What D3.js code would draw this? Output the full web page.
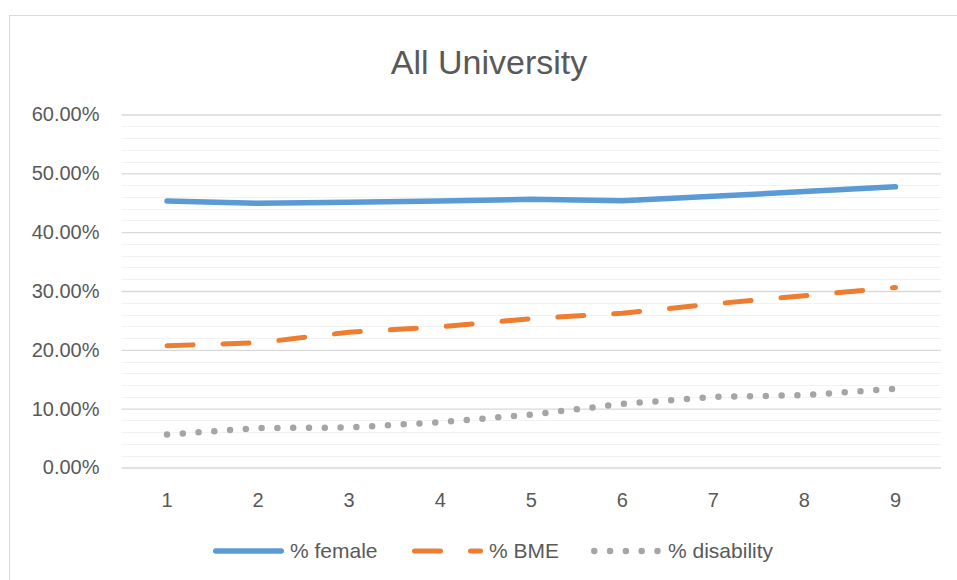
<!DOCTYPE html>
<html>
<head>
<meta charset="utf-8">
<script src="https://cdn.jsdelivr.net/npm/d3@7"></script>
<style>
  html, body { margin: 0; padding: 0; background: #fff; }
  svg { display: block; font-family: "Liberation Sans", Arial, sans-serif; }
</style>
</head>
<body>
<svg id="chart" width="957" height="580"></svg>
<script>
// Staff composition across nine periods
const categories = [1, 2, 3, 4, 5, 6, 7, 8, 9];
const female     = [45.3, 44.9, 45.1, 45.3, 45.6, 45.35, 46.1, 46.9, 47.7];
const bme        = [20.7, 21.2, 23.0, 23.9, 25.3, 26.2, 27.8, 29.2, 30.6];
const disability = [5.6, 6.7, 6.8, 7.7, 9.0, 10.8, 12.0, 12.3, 13.4];
const yTicks     = [0, 10, 20, 30, 40, 50, 60];
const yMinor     = d3.range(0, 61, 2);

const series = [
  { name: "% female",     values: female,     color: "#5B9BD5", width: 5.5, dash: null,      cap: "round" },
  { name: "% BME",        values: bme,        color: "#ED7D31", width: 5,   dash: "26,30",   cap: "round" },
  { name: "% disability", values: disability, color: "#A5A5A5", width: 6.5, dash: "0,15.8",  cap: "round" }
];

const svg = d3.select("#chart");
const textColor = "#595959";
const fontFamily = "'Liberation Sans', Arial, sans-serif";

// chart frame
svg.append("rect")
  .attr("x", 9.5).attr("y", 15.5)
  .attr("width", 960).attr("height", 580)
  .attr("fill", "#fff").attr("stroke", "#D9D9D9").attr("stroke-width", 1);

const plot = { left: 121.5, right: 941, top: 114.5, bottom: 467.5 };

const x = d3.scaleBand().domain(categories).range([plot.left, plot.right]);
const y = d3.scaleLinear().domain([0, 60]).range([plot.bottom, plot.top]);
const cx = d => x(d) + x.bandwidth() / 2;

// minor gridlines
svg.append("g").selectAll("line").data(yMinor.filter(v => v % 10 !== 0)).join("line")
  .attr("x1", plot.left).attr("x2", plot.right)
  .attr("y1", d => Math.round(y(d)) + 0.5).attr("y2", d => Math.round(y(d)) + 0.5)
  .attr("stroke", "#F2F2F2").attr("stroke-width", 1);

// major gridlines and y labels via axis
const yAxis = svg.append("g")
  .attr("transform", `translate(${plot.left},0)`)
  .call(d3.axisLeft(y).tickValues(yTicks)
    .tickSize(-(plot.right - plot.left)).tickPadding(22)
    .tickFormat(d => d3.format(".2f")(d) + "%"));
yAxis.select(".domain").remove();
yAxis.selectAll(".tick line").attr("stroke", "#D9D9D9").attr("stroke-width", 1.3);
yAxis.selectAll(".tick text")
  .attr("fill", textColor).attr("font-size", 20)
  .attr("font-family", fontFamily);

// x labels via axis
const xAxis = svg.append("g")
  .attr("transform", `translate(0,${plot.bottom})`)
  .call(d3.axisBottom(x).tickSize(0).tickPadding(25));
xAxis.select(".domain").remove();
xAxis.selectAll(".tick text")
  .attr("fill", textColor).attr("font-size", 20)
  .attr("font-family", fontFamily);

// series lines
const line = d3.line().x((d, i) => cx(categories[i])).y(d => y(d));
series.forEach(s => {
  svg.append("path")
    .datum(s.values)
    .attr("d", line)
    .attr("fill", "none")
    .attr("stroke", s.color)
    .attr("stroke-width", s.width)
    .attr("stroke-linecap", s.cap)
    .attr("stroke-linejoin", "round")
    .attr("stroke-dasharray", s.dash);
});

// title
svg.append("text")
  .attr("x", 489).attr("y", 74)
  .attr("text-anchor", "middle")
  .attr("fill", textColor).attr("font-size", 34)
  .text("All University");

// legend
const legendX = [213, 412, 591];
const legendY = 551;
const lg = svg.append("g");
series.forEach((s, i) => {
  lg.append("line")
    .attr("x1", legendX[i] + s.width / 2).attr("x2", legendX[i] + 71 - s.width / 2)
    .attr("y1", legendY).attr("y2", legendY)
    .attr("stroke", s.color).attr("stroke-width", s.width)
    .attr("stroke-linecap", s.cap)
    .attr("stroke-dasharray", s.dash);
  lg.append("text")
    .attr("x", legendX[i] + 77).attr("y", legendY + 7)
    .attr("fill", textColor).attr("font-size", 21)
    .text(s.name);
});
</script>
</body>
</html>
